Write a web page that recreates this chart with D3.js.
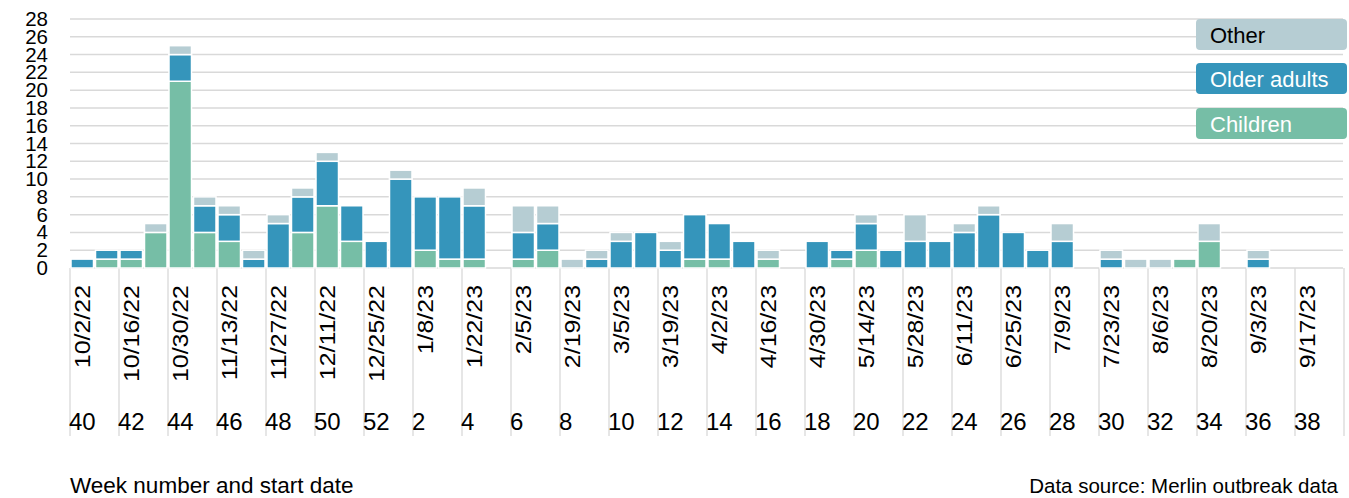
<!DOCTYPE html>
<html>
<head>
<meta charset="utf-8">
<script src="https://cdn.jsdelivr.net/npm/d3@7"></script>
<style>
  body { margin: 0; background: #fff; }
  svg text { font-family: "Liberation Sans", Arial, sans-serif; fill: #000; }
</style>
</head>
<body>
<div id="chart"></div>
<script>
const WIDTH = 1349,
  HEIGHT = 498,
  GRID = "#d9d9d9";

// week numbers, one per bar
const weeks = [40, 41, 42, 43, 44, 45, 46, 47, 48, 49, 50, 51, 52,
  1, 2, 3, 4, 5, 6, 7, 8, 9, 10, 11, 12, 13, 14, 15, 16, 17, 18, 19, 20,
  21, 22, 23, 24, 25, 26, 27, 28, 29, 30, 31, 32, 33, 34, 35, 36, 37, 38, 39];

const children = [0, 1, 1, 4, 21, 4, 3, 0, 0, 4, 7, 3, 0,
  0, 2, 1, 1, 0, 1, 2, 0, 0, 0, 0, 0, 1, 1, 0, 1, 0, 0, 1, 2,
  0, 0, 0, 0, 0, 0, 0, 0, 0, 0, 0, 0, 1, 3, 0, 0, 0, 0, 0];
const olderAdults = [1, 1, 1, 0, 3, 3, 3, 1, 5, 4, 5, 4, 3,
  10, 6, 7, 6, 0, 3, 3, 0, 1, 3, 4, 2, 5, 4, 3, 0, 0, 3, 1, 3,
  2, 3, 3, 4, 6, 4, 2, 3, 0, 1, 0, 0, 0, 0, 0, 1, 0, 0, 0];
const other = [0, 0, 0, 1, 1, 1, 1, 1, 1, 1, 1, 0, 0,
  1, 0, 0, 2, 0, 3, 2, 1, 1, 1, 0, 1, 0, 0, 0, 1, 0, 0, 0, 1,
  0, 3, 0, 1, 1, 0, 0, 2, 0, 1, 1, 1, 0, 2, 0, 1, 0, 0, 0];

// labels shown every second week
const tickWeeks = [40, 42, 44, 46, 48, 50, 52, 2, 4, 6, 8, 10, 12, 14, 16,
  18, 20, 22, 24, 26, 28, 30, 32, 34, 36, 38];
const tickDates = ["10/2/22", "10/16/22", "10/30/22", "11/13/22", "11/27/22",
  "12/11/22", "12/25/22", "1/8/23", "1/22/23", "2/5/23", "2/19/23", "3/5/23",
  "3/19/23", "4/2/23", "4/16/23", "4/30/23", "5/14/23", "5/28/23", "6/11/23",
  "6/25/23", "7/9/23", "7/23/23", "8/6/23", "8/20/23", "9/3/23", "9/17/23"];

const yTicks = [0, 2, 4, 6, 8, 10, 12, 14, 16, 18, 20, 22, 24, 26, 28];

const seriesKeys = ["children", "older", "other"],
  seriesNames = { children: "Children", older: "Older adults", other: "Other" },
  colors = { children: "#76bea6", older: "#3595bb", other: "#b6cdd3" };

const rows = weeks.map((w, i) => ({
  week: w,
  children: children[i],
  older: olderAdults[i],
  other: other[i]
}));

const svg = d3.select("#chart").append("svg")
  .attr("width", WIDTH)
  .attr("height", HEIGHT);

const x = d3.scaleBand()
  .domain(weeks)
  .range([70, 1344])
  .padding(0);

const y = d3.scaleLinear()
  .domain([0, 28])
  .range([268, 19]);

// gridlines
svg.append("g")
  .selectAll("line")
  .data(yTicks)
  .enter()
  .append("line")
  .attr("x1", 70)
  .attr("x2", 1343)
  .attr("y1", d => y(d))
  .attr("y2", d => y(d))
  .attr("stroke", GRID)
  .attr("stroke-width", 1.5);

// y labels (they touch each other in the original too)
const yAxis = svg.append("g")
  .attr("transform", "translate(70,0)")
  .call(d3.axisLeft(y).tickValues(yTicks).tickSize(0).tickPadding(22));
yAxis.select(".domain").remove();
yAxis.selectAll("text")
  .attr("font-size", 20.5)
  .attr("font-family", "DejaVu Sans, sans-serif")
  .attr("fill", "#000");

// vertical week separators
const sepX = tickWeeks.map(w => x(w)).concat([x(39) + x.bandwidth()]);
svg.append("g")
  .selectAll("line")
  .data(sepX)
  .enter()
  .append("line")
  .attr("x1", d => d)
  .attr("x2", d => d)
  .attr("y1", 268)
  .attr("y2", 436)
  .attr("stroke", GRID)
  .attr("stroke-width", 1.3);

// stacked bars
const stacked = d3.stack().keys(seriesKeys)(rows);
svg.append("g")
  .selectAll("g")
  .data(stacked)
  .enter()
  .append("g")
  .attr("fill", d => colors[d.key])
  .selectAll("rect")
  .data(d => d.filter(s => s[1] > s[0]))
  .enter()
  .append("rect")
  .attr("x", d => x(d.data.week) + 1)
  .attr("width", x.bandwidth() - 2)
  .attr("y", d => y(d[1]))
  .attr("height", d => y(d[0]) - y(d[1]))
  .attr("stroke", "#fff")
  .attr("stroke-width", 1.5);

// rotated dates
svg.append("g")
  .selectAll("text")
  .data(tickWeeks)
  .enter()
  .append("text")
  .attr("transform", w => `translate(${x(w) + x.bandwidth() / 2},285) rotate(-90) scale(1.16,1)`)
  .attr("text-anchor", "end")
  .attr("dy", "0.36em")
  .attr("font-size", 21.5)
  .attr("font-family", "DejaVu Sans, sans-serif")
  .text((w, i) => tickDates[i]);

// week numbers
svg.append("g")
  .selectAll("text")
  .data(tickWeeks)
  .enter()
  .append("text")
  .attr("x", w => x(w) - 1)
  .attr("y", 430)
  .attr("font-size", 24)
  .text(w => w);

svg.append("text")
  .attr("x", 70)
  .attr("y", 493)
  .attr("font-size", 22.5)
  .text("Week number and start date");

svg.append("text")
  .attr("x", 1338)
  .attr("y", 493)
  .attr("text-anchor", "end")
  .attr("font-size", 20.5)
  .text("Data source: Merlin outbreak data");

// legend
const legendKeys = ["other", "older", "children"],
  legendY = [19, 63, 108];
const legend = svg.append("g")
  .selectAll("g")
  .data(legendKeys)
  .enter()
  .append("g")
  .attr("transform", (d, i) => `translate(1196,${legendY[i]})`);
legend.append("rect")
  .attr("width", 151)
  .attr("height", 31)
  .attr("rx", 4)
  .attr("fill", d => colors[d]);
legend.append("text")
  .attr("x", 14)
  .attr("y", 24)
  .attr("font-size", 22)
  .style("fill", d => d === "other" ? "#000" : "#fff")
  .text(d => seriesNames[d]);
</script>
</body>
</html>
